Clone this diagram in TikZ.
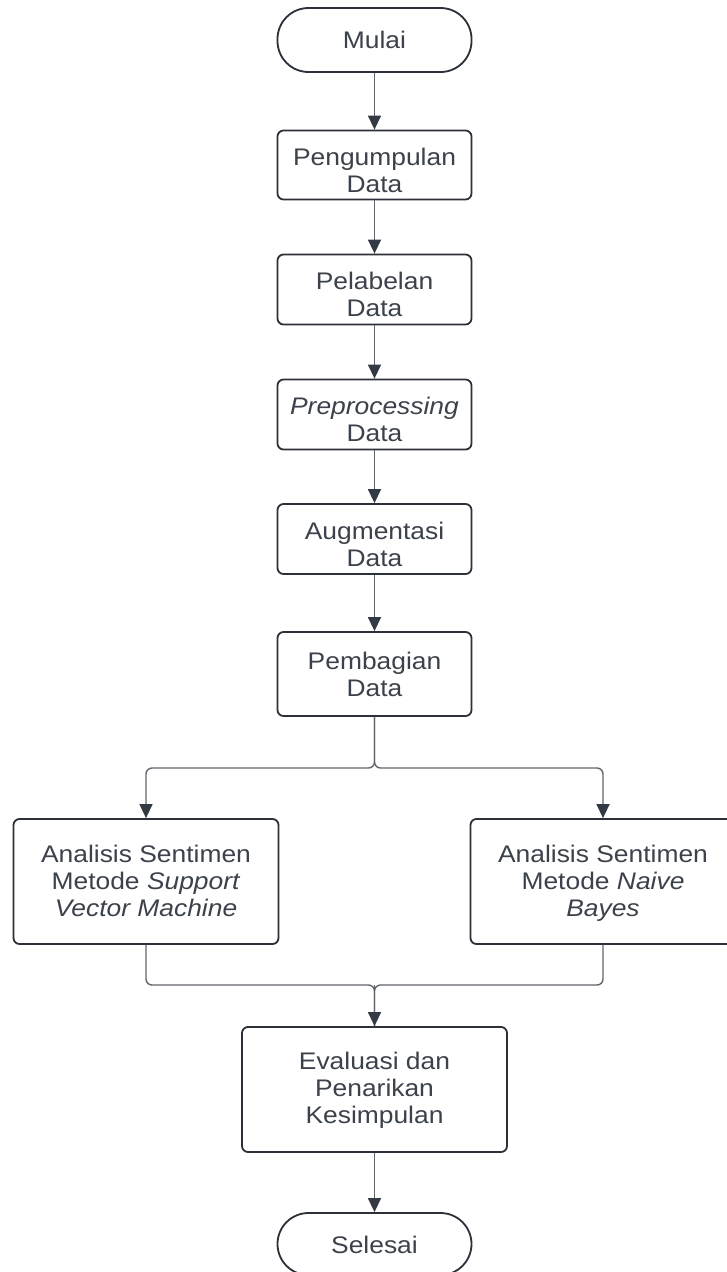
\documentclass[tikz,border=0pt]{standalone}
\usepackage{fontspec}
\setmainfont[FakeStretch=1.10]{Liberation Sans}
\usetikzlibrary{arrows.meta}
\definecolor{boxc}{HTML}{2C3038}
\definecolor{txt}{HTML}{3C424B}
\definecolor{linec}{HTML}{62676E}
\definecolor{arrc}{HTML}{343A43}
\newcommand\topS{\rule{0pt}{35pt}}
\newcommand\botS[1]{\rule[-#1pt]{0pt}{0pt}}
\tikzset{
  stepbox/.style={draw=boxc, line width=1.8pt, rounded corners=6pt, fill=white,
    minimum width=194pt, minimum height=62pt, align=center, text=txt, inner sep=0pt,
    font=\fontsize{24}{27}\selectfont},
  bigbox/.style={stepbox, minimum width=265pt, minimum height=125pt},
  term/.style={stepbox, rounded corners=31pt},
  conn/.style={draw=linec, line width=1.4pt, rounded corners=6pt,
    -{Triangle[length=14pt,width=13pt,color=arrc]}},
  plain/.style={draw=linec, line width=1.4pt, rounded corners=6pt},
}
\begin{document}
\begin{tikzpicture}[x=1pt,y=-1pt]
\clip (0,0) rectangle (727,1272);
\fill[white] (0,0) rectangle (727,1272);
\node[term, minimum height=64pt] (mulai) at (374.5,40) {\topS Mulai\botS{17.6}};
\node[stepbox] (kumpul) at (374.5,165) {\topS Pengumpulan\\Data\botS{7}};
\node[stepbox, minimum height=63pt] (label) at (374.5,289.5) {\topS Pelabelan\\Data\botS{8}};
\node[stepbox, minimum height=63pt] (pre) at (374.5,414.5) {\topS\textit{Preprocessing}\\Data\botS{8}};
\node[stepbox] (aug) at (374.5,539) {\topS Augmentasi\\Data\botS{8}};
\node[stepbox, minimum height=84pt] (bagi) at (374.5,674) {\topS Pembagian\\Data\botS{17.4}};
\node[bigbox] (svm) at (146,881.5) {\topS Analisis Sentimen\\Metode \textit{Support}\\\textit{Vector Machine}\botS{20}};
\node[bigbox] (nb) at (603,881.5) {\topS Analisis Sentimen\\Metode \textit{Naive}\\\textit{Bayes}\botS{20}};
\node[bigbox] (eval) at (374.5,1089.5) {\topS Evaluasi dan\\Penarikan\\Kesimpulan\botS{22}};
\node[term] (selesai) at (374.5,1244) {\topS Selesai\botS{17}};
\coordinate (split) at (374.5,768);
\coordinate (merge) at (374.5,985);
\draw[conn] (mulai) -- (kumpul);
\draw[conn] (kumpul) -- (label);
\draw[conn] (label) -- (pre);
\draw[conn] (pre) -- (aug);
\draw[conn] (aug) -- (bagi);
\draw[conn] (bagi.south) -- (split) -| (svm.north);
\draw[conn] (bagi.south) -- (split) -| (nb.north);
\draw[plain] (svm.south) |- (merge) -- (eval.north);
\draw[plain] (nb.south) |- (merge) -- (eval.north);
\draw[conn] (merge) -- (eval.north);
\draw[conn] (eval) -- (selesai);
\end{tikzpicture}
\end{document}
